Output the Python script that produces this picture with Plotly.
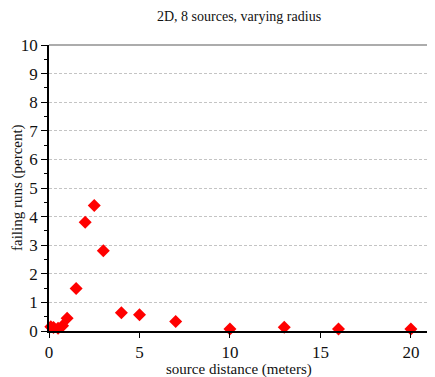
import plotly.graph_objects as go

distance = [0.1, 0.25, 0.5, 0.75, 1.0, 1.5, 2.0, 2.5, 3.0, 4.0, 5.0, 7.0, 10.0, 13.0, 16.0, 20.0]
failing = [0.15, 0.12, 0.1, 0.18, 0.45, 1.49, 3.8, 4.39, 2.81, 0.64, 0.57, 0.33, 0.07, 0.13, 0.07, 0.07]

title = "2D, 8 sources, varying radius"
xlabel = "source distance (meters)"
ylabel = "failing runs (percent)"

font = "Liberation Serif"
OFF = 8  # default page body margin
W, H = 435 - OFF, 377 - OFF
L, R, T, B = 49 - OFF, 6, 45 - OFF, 46
PW, PH = W - L - R, H - T - B

fig = go.Figure()
fig.add_trace(go.Scatter(
    x=distance, y=failing, mode="markers",
    marker=dict(symbol="diamond", size=10, color="#ff0000", line=dict(width=0)),
    cliponaxis=False, showlegend=False,
))

fig.update_layout(
    width=W, height=H,
    margin=dict(l=L, r=R, t=T, b=B, autoexpand=False),
    paper_bgcolor="white", plot_bgcolor="white",
    font=dict(family=font, size=16, color="#111"),
    xaxis=dict(
        range=[0, 21], tickvals=[0, 5, 10, 15, 20], ticks="outside", ticklen=5,
        tickcolor="black", showline=True, linecolor="black", linewidth=1.5,
        showgrid=False, zeroline=False, automargin=False,
        tickfont=dict(family=font, size=17, color="#111"),
    ),
    yaxis=dict(
        range=[0, 10], tickvals=list(range(0, 11)), ticks="outside", ticklen=6,
        tickcolor="black", showline=True, linecolor="black", linewidth=1.5,
        showgrid=True, gridcolor="#c4c4c4", griddash="3px,2px", gridwidth=1,
        zeroline=False, automargin=False,
        minor=dict(tickvals=[i + 0.5 for i in range(10)], ticks="outside", ticklen=3,
                   tickcolor="black", showgrid=False),
        tickfont=dict(family=font, size=17, color="#111"),
    ),
    annotations=[
        dict(text=title, xref="paper", yref="paper", x=0.5,
             y=1 + (T - (17 - OFF)) / PH,
             xanchor="center", yanchor="middle", showarrow=False,
             font=dict(family=font, size=14, color="#111")),
        dict(text=xlabel, xref="paper", yref="paper", x=0.5,
             y=-((370 - OFF) - (H - B)) / PH,
             xanchor="center", yanchor="middle", showarrow=False,
             font=dict(family=font, size=15, color="#111")),
        dict(text=ylabel, xref="paper", yref="paper",
             x=-(L - (17 - OFF)) / PW, y=0.5,
             xanchor="center", yanchor="middle", textangle=-90, showarrow=False,
             font=dict(family=font, size=15, color="#111")),
    ],
    shapes=[
        dict(type="line", xref="paper", yref="paper", x0=0, x1=1, y0=1, y1=1,
             line=dict(color="#909090", width=1.5)),
        dict(type="line", xref="paper", yref="paper", x0=1, x1=1, y0=0, y1=1,
             line=dict(color="black", width=1.5)),
    ],
)

fig.write_html("out.html")
